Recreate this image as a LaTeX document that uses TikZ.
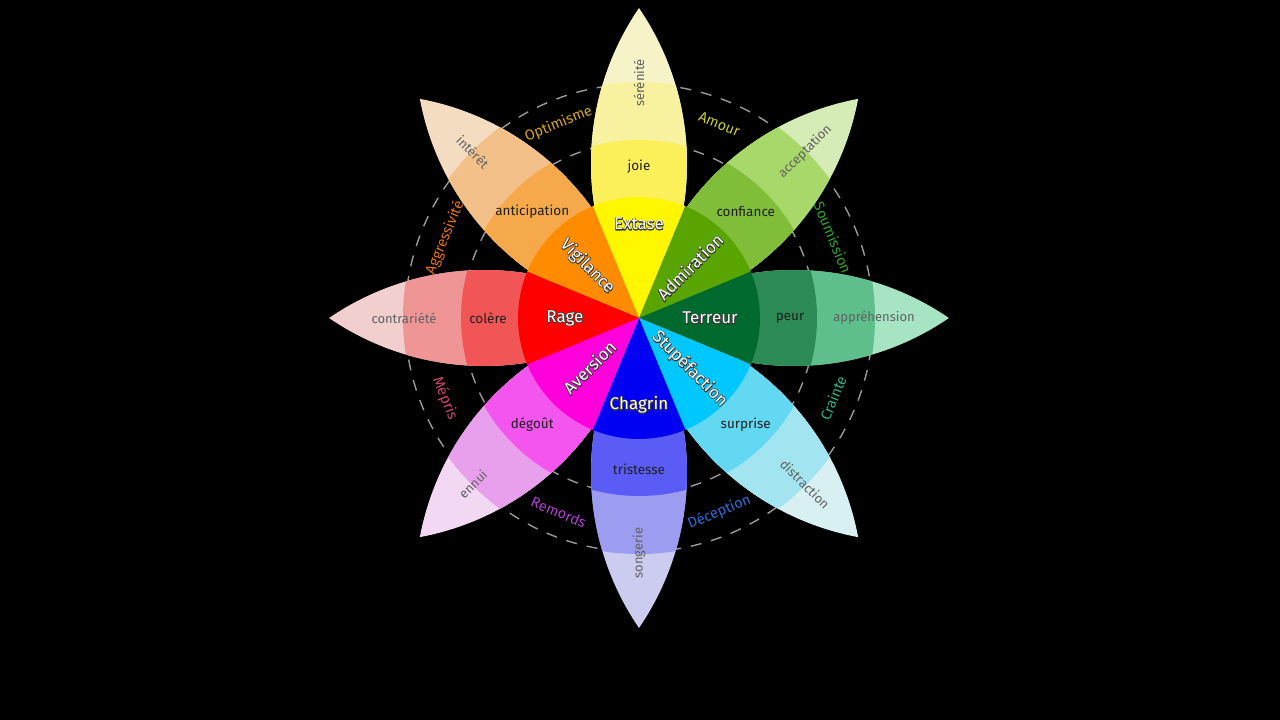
\documentclass[tikz,border=0pt]{standalone}
\usepackage{fontspec}
\setmainfont{Fira Sans}

% white letters over a thin dark stroked copy
\newcommand\outlined[1]{\rlap{\special{pdf:literal direct 1 Tr 1.5 w 1 j 0.22 0.22 0.22 RG}#1\special{pdf:literal direct 0 Tr}}#1}

% intense / basic / mild / faint tones of each petal
\definecolor{yel1}{HTML}{FFF700}
\definecolor{yel2}{HTML}{FCF05A}
\definecolor{yel3}{HTML}{F8F1A0}
\definecolor{yel4}{HTML}{F7F3C8}
\definecolor{ora1}{HTML}{FF8C00}
\definecolor{ora2}{HTML}{F6A94A}
\definecolor{ora3}{HTML}{F4C08A}
\definecolor{ora4}{HTML}{F4DCC0}
\definecolor{grn1}{HTML}{5AA400}
\definecolor{grn2}{HTML}{80BE3A}
\definecolor{grn3}{HTML}{A8D86A}
\definecolor{grn4}{HTML}{D6ECB6}
\definecolor{tea1}{HTML}{00692E}
\definecolor{tea2}{HTML}{2B8A55}
\definecolor{tea3}{HTML}{5EBE8C}
\definecolor{tea4}{HTML}{A6E4C4}
\definecolor{cya1}{HTML}{00C8FF}
\definecolor{cya2}{HTML}{63D8F2}
\definecolor{cya3}{HTML}{A2E5F0}
\definecolor{cya4}{HTML}{D8F0F2}
\definecolor{blu1}{HTML}{0000F2}
\definecolor{blu2}{HTML}{5B5BF5}
\definecolor{blu3}{HTML}{9C9CF0}
\definecolor{blu4}{HTML}{CCCCF0}
\definecolor{mag1}{HTML}{FF00DD}
\definecolor{mag2}{HTML}{F455EE}
\definecolor{mag3}{HTML}{E9A0EC}
\definecolor{mag4}{HTML}{F2D8F2}
\definecolor{red1}{HTML}{FF0000}
\definecolor{red2}{HTML}{F25555}
\definecolor{red3}{HTML}{EF9595}
\definecolor{red4}{HTML}{F1CFCF}
% dyad label colours
\definecolor{optim}{HTML}{D9A520}
\definecolor{amour}{HTML}{C9CC3A}
\definecolor{soumi}{HTML}{33A02C}
\definecolor{craint}{HTML}{2DB38A}
\definecolor{decep}{HTML}{2F6BD6}
\definecolor{remor}{HTML}{B23FD0}
\definecolor{mepri}{HTML}{D0456F}
\definecolor{aggre}{HTML}{E0701E}

\tikzset{
  corelabel/.style = {text = white, inner sep = 0pt,
                      font = \fontsize{17}{17}\selectfont},
  basiclabel/.style = {text = black!88, inner sep = 0pt,
                       font = \fontsize{13.5}{13.5}\selectfont},
  mildlabel/.style = {text = black!62, inner sep = 0pt,
                      font = \fontsize{13}{13}\selectfont},
  dyadlabel/.style = {inner sep = 0pt, font = \fontsize{14.5}{14.5}\selectfont},
  ring/.style = {gray!80, line width = 1.4pt, dash pattern = on 11pt off 10pt}
}

\begin{document}
\begin{tikzpicture}[x = 1pt, y = 1pt]
      \fill [black] (-639,-402) rectangle (641,318);
      \useasboundingbox (-639,-402) rectangle (641,318);
      % dashed rings behind the petals
      \draw [ring] (0,0) circle (176);
      \draw [ring] (0,0) circle (234);
      % petals: lens of two arcs, cut into bands
      \foreach \a/\c in {90/yel, 135/ora, 45/grn, 0/tea,
                         -45/cya, -90/blu, -135/mag, 180/red} {
        \begin{scope}[rotate = \a - 90]
          \clip (0,0) arc [start angle = 214.4, end angle = 145.6, radius = 274.3]
                arc [start angle = 34.4, end angle = -34.4, radius = 274.3] -- cycle;
          \fill [\c4] (0,0) circle (320);
          \fill [\c3] (0,0) circle (236);
          \fill [\c2] (0,0) circle (178);
        \end{scope}
      }
      % inner disc of intense wedges
      \foreach \a/\c in {90/yel, 135/ora, 45/grn, 0/tea,
                         -45/cya, -90/blu, -135/mag, 180/red}
        \fill [\c1] (0,0) -- (\a - 22.5:121)
          arc [start angle = \a - 22.5, end angle = \a + 22.5, radius = 121] -- cycle;
      % intense emotions
      \foreach \a/\r/\rot/\n/\t in {90/94/0/extase/Extase, 135/73/-45/vigil/Vigilance,
                                    45/72/45/admir/Admiration, 0/71/0/terreur/Terreur,
                                    -45/72/-45/stupe/Stupéfaction, -90/87/0/chagrin/Chagrin,
                                    -135/70/45/aversion/Aversion, 180/74/0/rage/Rage}
        \node [corelabel, rotate = \rot] (\n) at (\a:\r) {\outlined{\t}};
      % basic emotions
      \foreach \a/\n/\t in {90/joie/joie, 135/antic/anticipation, 45/confi/confiance,
                            0/peur/peur, -45/surpr/surprise, -90/trist/tristesse,
                            -135/degout/dégoût, 180/colere/colère}
        \node [basiclabel] (\n) at (\a:151) {\t};
      % mild emotions
      \foreach \a/\rot/\n/\t in {90/90/seren/sérénité, 135/-45/inter/intérêt,
                                 45/45/accep/acceptation, 0/0/appre/appréhension,
                                 -45/-45/distr/distraction, -90/90/songe/songerie,
                                 -135/45/ennui/ennui, 180/0/contr/contrariété}
        \node [mildlabel, rotate = \rot] (\n) at (\a:235) {\t};
      % dyads between the petals
      \foreach \a/\rot/\c/\t in {112.5/22.5/optim/Optimisme, 67.5/-22.5/amour/Amour,
                                 22.5/-67.5/soumi/Soumission, -22.5/67.5/craint/Crainte,
                                 -67.5/22.5/decep/Déception, -112.5/-22.5/remor/Remords,
                                 -157.5/-67.5/mepri/Mépris, 157.5/67.5/aggre/Aggressivité}
        \node [dyadlabel, text = \c, rotate = \rot] (\c) at (\a:210) {\t};
    \end{tikzpicture}
\end{document}
